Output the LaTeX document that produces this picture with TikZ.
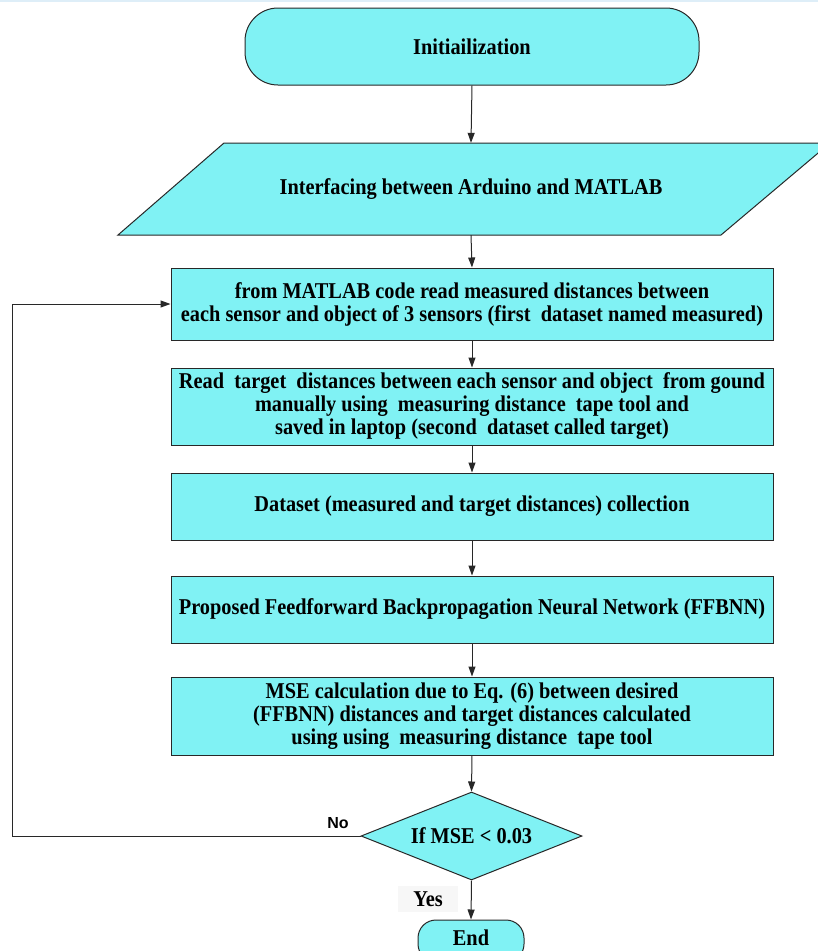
\documentclass[tikz,border=0pt]{standalone}
\usepackage{fontspec}
\setmainfont{Liberation Serif}[FakeStretch=0.9]
\setsansfont{Liberation Sans}
\usetikzlibrary{arrows.meta,shapes.geometric}
\definecolor{cyanfill}{RGB}{128,242,244}
\definecolor{edge}{RGB}{40,40,40}
\definecolor{topline}{RGB}{222,238,248}
\tikzset{
  txt/.style={font=\bfseries\fontsize{22.6}{23}\selectfont, text=black},
  stepbox/.style={draw=edge, line width=1pt, fill=cyanfill, minimum width=602pt, align=center, txt},
  term/.style={draw=edge, line width=1pt, fill=cyanfill, align=center, txt},
  conn/.style={draw=edge, line width=1pt, -{Triangle[length=10pt,width=7pt]}}
}
\begin{document}
\begin{tikzpicture}[x=1pt,y=-1pt]
\useasboundingbox (0,0) rectangle (818,951);
\clip (0,0) rectangle (818,951);
\fill[white] (0,0) rectangle (818,951);
\fill[topline] (0,0) rectangle (818,2);
% start
\node[term, minimum width=454pt, minimum height=77pt, rounded corners=33pt] (init) at (472,46.5) {Initiailization};
% parallelogram
\filldraw[draw=edge, line width=1pt, fill=cyanfill] (224,143) -- (830,143) -- (721,235) -- (118,235) -- cycle;
\node[txt, minimum height=92pt, minimum width=300pt] (para) at (471,189) {Interfacing between Arduino and MATLAB};
% boxes
\node[stepbox, minimum height=72pt] (b1) at (472,304) {from MATLAB code read measured distances between\\each sensor and object of 3 sensors (first\ \ dataset named measured)};
\node[stepbox, minimum height=77pt] (b2) at (472,406.5) {Read\ \ target\ \ distances between each sensor and object\ \ from gound\\manually using\ \ measuring distance\ \ tape tool and\\saved in laptop (second\ \ dataset called target)};
\node[stepbox, minimum height=67pt] (b3) at (472,506.5) {Dataset (measured and target distances) collection};
\node[stepbox, minimum height=67pt] (b4) at (472,609.5) {Proposed Feedforward Backpropagation Neural Network (FFBNN)};
\node[stepbox, minimum height=78pt] (b5) at (472,716) {MSE calculation due to Eq. (6) between desired\\(FFBNN) distances and target distances calculated\\using using\ \ measuring distance\ \ tape tool};
% decision
\node[diamond, aspect=2.5, draw=edge, line width=1pt, fill=cyanfill, inner sep=0pt, minimum width=221pt, minimum height=88pt, txt] (dec) at (471.5,836) {If MSE < 0.03};
% end
\node[term, minimum width=106pt, minimum height=42pt, rounded corners=18pt] (endn) at (471,941) {};
\node[txt] (endt) at (471,938) {End};
% labels
\node[fill=gray!6, minimum width=60pt, minimum height=26pt, inner sep=0pt, txt] (yes) at (428,899) {Yes};
\node[font=\sffamily\bfseries\fontsize{16}{18}\selectfont] (no) at (338,823) {No};
% connectors
\draw[conn] (init.south) -- (para.north);
\draw[conn] (para.south) -- (b1.north);
\draw[conn] (b1) -- (b2);
\draw[conn] (b2) -- (b3);
\draw[conn] (b3) -- (b4);
\draw[conn] (b4) -- (b5);
\draw[conn] (b5.south) -- (dec.north);
\draw[conn] (dec.south) -- (endn.north);
\coordinate (loopc) at (12,836);
\draw[conn] (dec.west) -- (loopc) |- (b1.west);
\end{tikzpicture}
\end{document}
